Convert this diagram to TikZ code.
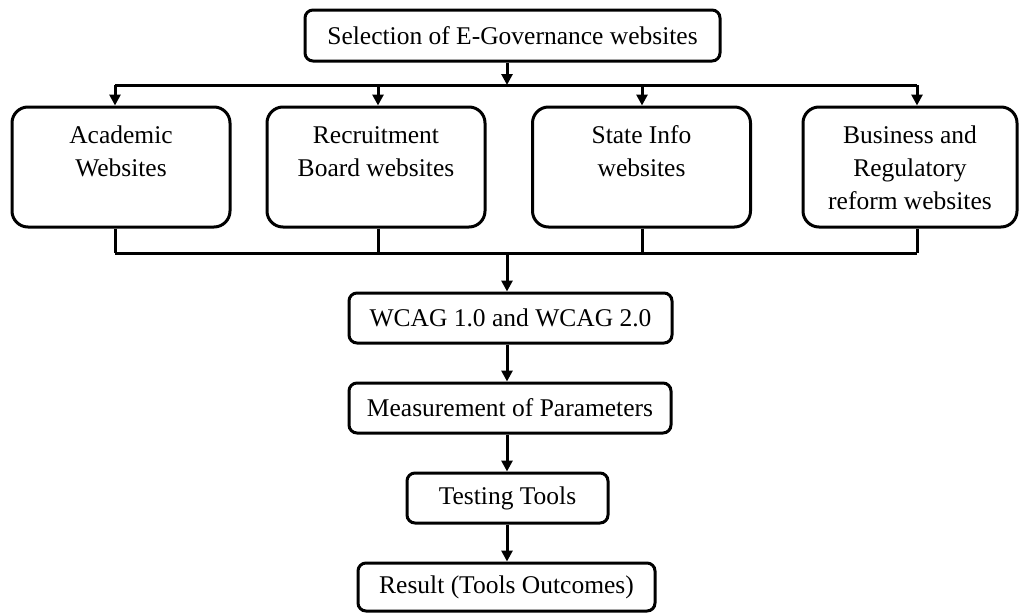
\documentclass[tikz,border=0pt]{standalone}
\usepackage{fontspec}
\setmainfont{Liberation Serif}
\usetikzlibrary{arrows.meta}
% fixed depth for the last line of a category label
\newcommand{\lastdepth}{\rule[-5pt]{0pt}{5pt}}
\begin{document}
\begin{tikzpicture}[x=1pt,y=-1pt,
  every node/.style={font=\fontsize{25.5}{33}\selectfont},
  flowline/.style={line width=3pt},
  arr/.style={flowline,-{Triangle[width=11pt,length=11pt]}},
  smallbox/.style={draw,line width=3pt,rounded corners=8pt,inner sep=0pt,align=center},
  catbox/.style={draw,line width=3pt,rounded corners=16pt,inner sep=0pt,align=center,
    minimum width=218pt,minimum height=120pt}]
\useasboundingbox (0,0) rectangle (1019,613);

% top-level selection step
\node[smallbox,minimum width=415pt,minimum height=51pt] (top) at (512.5,35.5) {Selection of E-Governance websites};

% four website categories
\node[catbox] (c1) at (121,167) {\strut Academic\\Websites\\\lastdepth};
\node[catbox] (c2) at (376,167) {\strut Recruitment\\Board websites\\\lastdepth};
\node[catbox] (c3) at (641.5,167) {\strut State Info\\websites\\\lastdepth};
\node[catbox,minimum width=214pt] (c4) at (910,167) {\strut Business and\\Regulatory\\reform websites\lastdepth};

% sequential evaluation steps
\node[smallbox,minimum width=323pt,minimum height=50pt] (wcag) at (510.5,318) {WCAG 1.0 and WCAG 2.0};
\node[smallbox,minimum width=322pt,minimum height=50pt] (meas) at (510,408) {Measurement of Parameters};
\node[smallbox,minimum width=201pt,minimum height=50pt] (test) at (507.5,498) {Testing Tools};
\node[smallbox,minimum width=297pt,minimum height=48pt] (res) at (506.5,587) {Result (Tools Outcomes)};

% distribution bus
\coordinate (dm) at (507,85);
\coordinate (d1) at (115,85);
\coordinate (d2) at (378,85);
\coordinate (d3) at (642,85);
\coordinate (d4) at (917,85);
% collection bus
\coordinate (g1) at (115,253);
\coordinate (g4) at (917,253);
\coordinate (gm) at (507,253);

\draw[arr] (top.south -| dm) -- (dm);
\draw[flowline] (d1) -- (d4);
\foreach \i in {1,...,4} {
  \draw[arr] (d\i) -- (d\i |- c\i.north);
  \draw[flowline] (d\i |- c\i.south) -- (d\i |- g1);
}
\draw[flowline] (g1) -- (g4);
\draw[arr] (gm) -- (gm |- wcag.north);
\draw[arr] (wcag.south -| dm) -- (meas.north -| dm);
\draw[arr] (meas.south -| dm) -- (test.north -| dm);
\draw[arr] (test.south -| dm) -- (res.north -| dm);
\end{tikzpicture}
\end{document}
